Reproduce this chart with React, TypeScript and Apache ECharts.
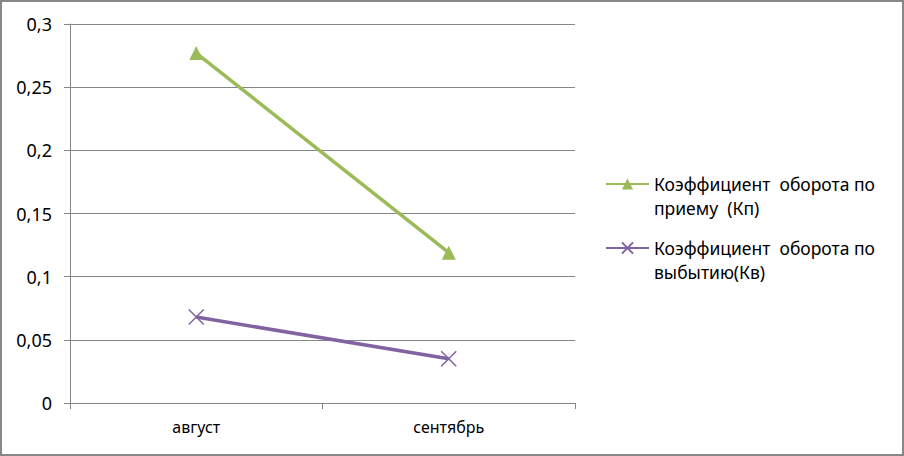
import React, { useEffect, useRef } from "react";
import * as echarts from "echarts";

const categories = ["август", "сентябрь"];
const seriesNames = [
  "Коэффициент оборота по приему  (Кп)",
  "Коэффициент оборота по выбытию(Кв)",
];
const legendLabels = [
  "Коэффициент  оборота по\nприему  (Кп)",
  "Коэффициент  оборота по\nвыбытию(Кв)",
];
const kpValues = [0.277, 0.119];
const kvValues = [0.068, 0.035];
const yTicks = { min: 0, max: 0.3, interval: 0.05 };

const FONT = "'Noto Sans', sans-serif";
const crossPath = "path://M0,0L10,10M10,0L0,10";

export default function App() {
  const ref = useRef<HTMLDivElement>(null);
  useEffect(() => {
    if (!ref.current) return;
    const chart = echarts.init(ref.current, undefined, { renderer: "svg" });
    chart.setOption({
      animation: false,
      backgroundColor: "#ffffff",
      textStyle: { fontFamily: FONT },
      grid: { left: 70, right: 329, top: 24, bottom: 53 },
      graphic: [
        {
          type: "rect",
          shape: { x: 1, y: 1, width: 902, height: 454 },
          style: { fill: "none", stroke: "#888888", lineWidth: 2 },
          silent: true,
        },
      ],
      legend: {
        orient: "vertical",
        left: 605,
        top: 148,
        padding: 0,
        itemGap: -8,
        itemWidth: 43,
        itemHeight: 14,
        formatter: (name: string) => "\n" + legendLabels[seriesNames.indexOf(name)],
        textStyle: {
          fontFamily: FONT,
          fontSize: 17.5,
          color: "#000",
          lineHeight: 24,
        },
        data: seriesNames,
      },
      xAxis: {
        type: "category",
        data: categories,
        boundaryGap: true,
        axisLine: { lineStyle: { color: "#868686", width: 1 } },
        axisTick: { show: true, length: 6, lineStyle: { color: "#868686" } },
        axisLabel: { color: "#000", fontSize: 16, fontFamily: FONT, margin: 16 },
        splitLine: { show: false },
      },
      yAxis: {
        type: "value",
        min: yTicks.min,
        max: yTicks.max,
        interval: yTicks.interval,
        axisLine: { show: true, lineStyle: { color: "#868686", width: 1 } },
        axisTick: { show: true, length: 6, lineStyle: { color: "#868686" } },
        axisLabel: {
          color: "#000",
          fontSize: 18,
          fontFamily: FONT,
          margin: 18,
          formatter: (v: number) => String(Math.round(v * 100) / 100).replace(".", ","),
        },
        splitLine: { show: true, lineStyle: { color: "#868686", width: 1 } },
      },
      series: [
        {
          name: seriesNames[0],
          type: "line",
          data: kpValues,
          symbol: "triangle",
          symbolSize: 14,
          lineStyle: { color: "#9BBB59", width: 3.5 },
          itemStyle: { color: "#9BBB59" },
        },
        {
          name: seriesNames[1],
          type: "line",
          data: kvValues,
          symbol: crossPath,
          symbolSize: 15,
          lineStyle: { color: "#8064A2", width: 3.5 },
          itemStyle: { color: "#8064A2", borderColor: "#8064A2", borderWidth: 1.5 },
        },
      ],
    });
    return () => chart.dispose();
  }, []);
  return (
    <div
      ref={ref}
      style={{ position: "fixed", left: 0, top: 0, width: 904, height: 456 }}
    />
  );
}
